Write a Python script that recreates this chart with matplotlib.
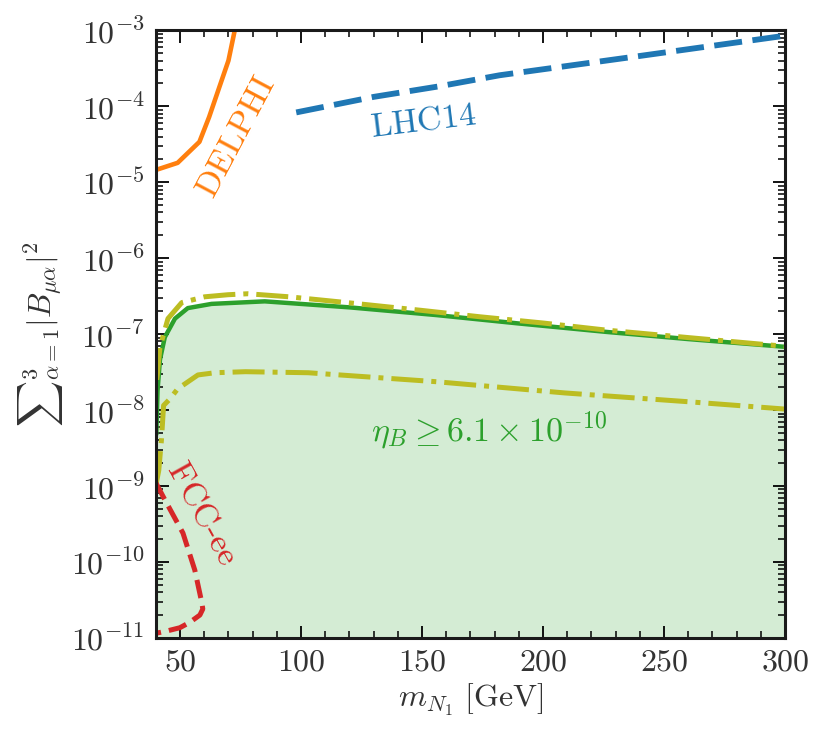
import math
import matplotlib
matplotlib.use("Agg")
import matplotlib.pyplot as plt
from matplotlib.ticker import FixedLocator, LogLocator, FuncFormatter, NullFormatter

plt.rcParams["font.family"] = "serif"
plt.rcParams["font.serif"] = ["cmr10", "DejaVu Serif"]
plt.rcParams["mathtext.fontset"] = "cm"
plt.rcParams["axes.unicode_minus"] = False

# ==============================
# data
# ==============================

# DELPHI (orange, solid)
delphi_m = [40, 49, 58, 62, 66, 70, 72.6, 74]
delphi_B = [1.45e-5, 1.8e-5, 3.4e-5, 7.2e-5, 1.7e-4, 4.0e-4, 1.0e-3, 1.6e-3]

# LHC14 (blue, dashed)
lhc_m = [98, 130, 157, 182, 240, 300]
lhc_B = [8.3e-5, 1.33e-4, 1.83e-4, 2.56e-4, 4.6e-4, 8.5e-4]

# eta_B >= 6.1e-10 boundary (green, filled below)
eta_m = [40.2, 40.7, 41.7, 43.7, 47.9, 53.2, 63, 85, 120, 156, 190, 226, 260, 300]
eta_B = [5e-9, 1.8e-8, 4.6e-8, 9.1e-8, 1.6e-7, 2.2e-7, 2.5e-7, 2.7e-7,
         2.25e-7, 1.78e-7, 1.38e-7, 1.07e-7, 8.6e-8, 6.8e-8]

# upper dash-dot (yellow)
up_m = [40.4, 41.7, 45, 50.7, 60.2, 69.8, 78, 95, 121, 150, 174, 200, 226, 260, 300]
up_B = [2.5e-8, 6.7e-8, 1.6e-7, 2.6e-7, 3.1e-7, 3.3e-7, 3.4e-7, 3.1e-7,
        2.56e-7, 2.05e-7, 1.69e-7, 1.4e-7, 1.13e-7, 9e-8, 6.9e-8]

# lower dash-dot (yellow)
lo_m = [40.2, 41.2, 42.3, 43.2, 45.8, 49, 57.4, 64.4, 77, 103, 156, 209, 261, 300]
lo_B = [1.1e-9, 1.6e-9, 4e-9, 1.15e-8, 1.4e-8, 1.9e-8, 2.9e-8, 3.1e-8,
        3.2e-8, 3.1e-8, 2.36e-8, 1.68e-8, 1.28e-8, 1.03e-8]

# FCC-ee (red, dashed)
fcc_m = [40.0, 43.7, 51.2, 56.1, 59.0, 59.4, 58.2, 54, 49.9, 44, 40.0]
fcc_B = [1.1e-9, 6.6e-10, 2.4e-10, 7.8e-11, 2.9e-11, 2.4e-11, 2.0e-11,
         1.6e-11, 1.36e-11, 1.22e-11, 1.15e-11]

xticks = [50, 100, 150, 200, 250, 300]
yticks = [1e-11, 1e-10, 1e-9, 1e-8, 1e-7, 1e-6, 1e-5, 1e-4, 1e-3]

# ==============================
# plot
# ==============================
fig = plt.figure(figsize=(8.29, 7.40), dpi=100)
ax = fig.add_axes([0.188, 0.138, 0.759, 0.821])

ax.fill_between(eta_m, 1e-11, eta_B, color="#2ca02c", alpha=0.2, lw=0)
ax.plot(eta_m, eta_B, color="#2ca02c", lw=3.2)
ax.plot(up_m, up_B, color="#bcbd22", lw=3.6, ls="-.")
ax.plot(lo_m, lo_B, color="#bcbd22", lw=3.6, ls="-.")
ax.plot(delphi_m, delphi_B, color="#ff7f0e", lw=3.3)
l_lhc, = ax.plot(lhc_m, lhc_B, color="#1f77b4", lw=4.2)
l_lhc.set_dashes((4.8, 1.8))
ax.plot(fcc_m, fcc_B, color="#d62728", lw=3.6, ls="--")

ax.set_yscale("log")
ax.set_xlim(40, 300)
ax.set_ylim(1e-11, 1e-3)

ax.xaxis.set_major_locator(FixedLocator(xticks))
ax.xaxis.set_minor_locator(FixedLocator(list(range(40, 301, 10))))
ax.xaxis.set_major_formatter(FuncFormatter(lambda v, p: r"$%d$" % v))
ax.yaxis.set_major_locator(FixedLocator(yticks))
ax.yaxis.set_minor_locator(LogLocator(base=10, subs=range(2, 10), numticks=20))
ax.yaxis.set_minor_formatter(NullFormatter())
ax.yaxis.set_major_formatter(FuncFormatter(lambda v, p: r"$10^{%d}$" % round(math.log10(v))))

ax.tick_params(which="both", direction="in", top=True, right=True,
               labelsize=23, labelcolor="#333333", pad=8)
ax.tick_params(which="major", length=9, width=1.3)
ax.tick_params(which="minor", length=5, width=1.1)
for s in ax.spines.values():
    s.set_linewidth(2.2)
    s.set_color("#1a1a1a")

ax.set_xlabel(r"$m_{N_1}\ [\mathrm{GeV}]$", fontsize=23, color="#333333", labelpad=4)
ax.set_ylabel(r"${\sum}_{\alpha=1}^{3}|B_{\mu\alpha}|^2$", fontsize=23, color="#333333", labelpad=4)

ax.text(73.5, 3.9e-5, r"$\mathrm{DELPHI}$", color="#ff7f0e", fontsize=24.5,
        rotation=62, ha="center", va="center")
ax.text(150.7, 6.2e-5, r"$\mathrm{LHC14}$", color="#1f77b4", fontsize=24.5,
        rotation=7, ha="center", va="center")
ax.text(177.8, 5.5e-9, r"$\eta_B \geq 6.1\times10^{-10}$", color="#2ca02c",
        fontsize=24.5, ha="center", va="center")
ax.text(59.0, 4.4e-10, r"$\mathrm{FCC}$-$\mathrm{ee}$", color="#d62728", fontsize=24.5,
        rotation=-61, ha="center", va="center")

plt.savefig("out.png", dpi=100)
